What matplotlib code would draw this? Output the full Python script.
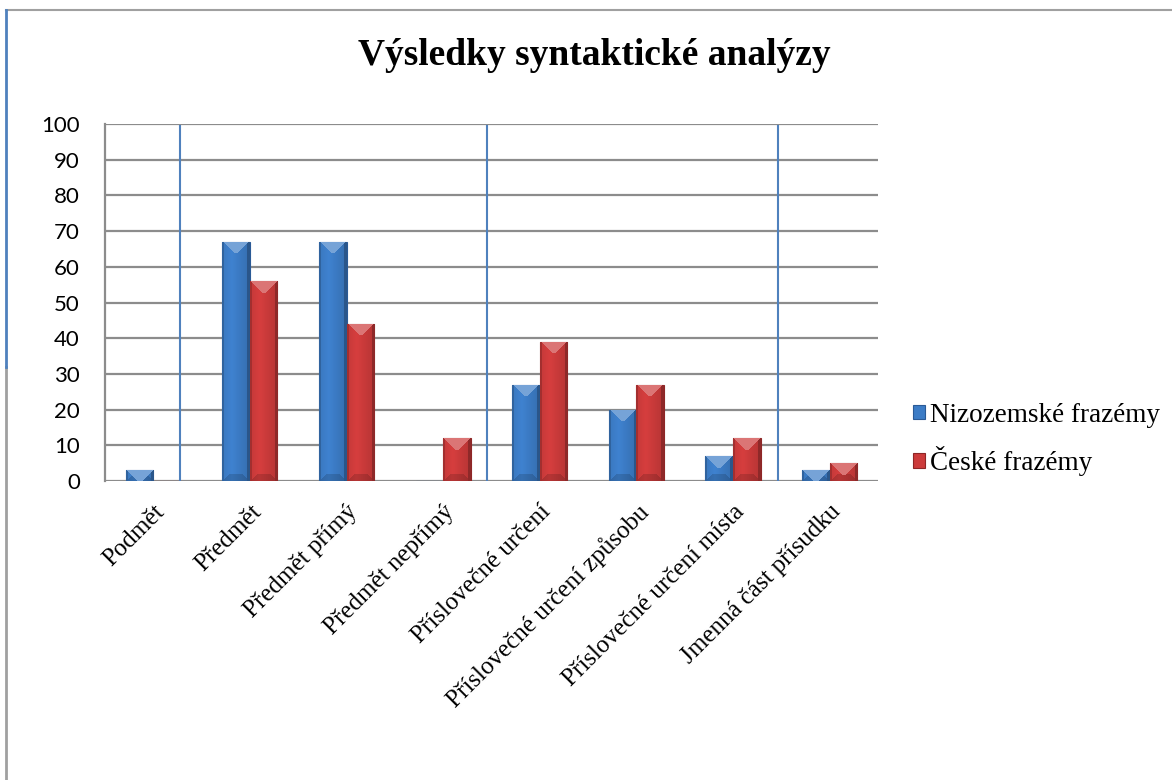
import numpy as np
import matplotlib
matplotlib.use('Agg')
import matplotlib.pyplot as plt
from matplotlib.colors import to_rgb
from matplotlib.lines import Line2D

categories = ['Podmět', 'Předmět', 'Předmět přímý', 'Předmět nepřímý',
              'Příslovečné určení', 'Příslovečné určení způsobu',
              'Příslovečné určení místa', 'Jmenná část přísudku']
nizozemske = [3, 67, 67, 0, 27, 20, 7, 3]
ceske = [0, 56, 44, 12, 39, 27, 12, 5]
series_names = ['Nizozemské frazémy', 'České frazémy']
yticks = [0, 10, 20, 30, 40, 50, 60, 70, 80, 90, 100]

blue = '#3C7CC6'
red = '#CC3B3B'


def bevel(w, h, base, d=12):
    # simple Excel-like bevel shading, in pixels
    base = np.array(to_rgb(base))
    u = (np.arange(w) + 0.5)[None, :]
    v = (np.arange(h) + 0.5)[:, None]
    dl, dr = u + 0 * v, w - u + 0 * v
    dt, db = v + 0 * u, h - v + 0 * u
    f = 1.05 - 0.25 * np.abs(u / w - 0.35) + 0 * v
    top = (dt < np.minimum(dl, dr)) & (dt < d)
    bot = (db < np.minimum(dl, dr)) & (db < d * 0.6)
    left = (dl < 2.5) & ~top
    right = (dr < 3) & ~top
    f = np.where(bot, f * 0.85, f)
    f = np.where(left, 0.8, f)
    f = np.where(right, 0.7, f)
    img = np.clip(base[None, None, :] * f[:, :, None], 0, 1)
    light = np.clip(base + (1 - base) * 0.3, 0, 1)
    img[top] = light
    return img


fig = plt.figure(figsize=(11.72, 7.8), dpi=100)
ax = fig.add_axes([0.0896, 0.3833, 0.6595, 0.4577])

x = np.arange(len(categories))
w = 0.285
ax.set_xlim(-0.5, len(categories) - 0.5)
ax.set_ylim(0, 100)

b1 = ax.bar(x - w / 2, nizozemske, w, color=blue, edgecolor='#2A5A96', linewidth=0.8, zorder=3,
            label=series_names[0])
b2 = ax.bar(x + w / 2, ceske, w, color=red, edgecolor='#8E2626', linewidth=0.8, zorder=3,
            label=series_names[1])

fig.canvas.draw()
for bars, col in [(b1, blue), (b2, red)]:
    for p in bars:
        if p.get_height() <= 0:
            continue
        (px0, py0), (px1, py1) = ax.transData.transform(
            [(p.get_x(), 0), (p.get_x() + p.get_width(), p.get_height())])
        img = bevel(max(int(round(px1 - px0)), 2), max(int(round(py1 - py0)), 2), col)
        im = ax.imshow(img, extent=(p.get_x(), p.get_x() + p.get_width(), 0, p.get_height()),
                       aspect='auto', zorder=3.5, interpolation='nearest')
        im.set_clip_path(p)

ax.set_xlim(-0.5, len(categories) - 0.5)
ax.set_ylim(0, 100)

# decorative vertical lines
for xv in [0.28, 3.45, 6.47]:
    ax.plot([xv, xv], [0, 99.4], color='#4F81BD', linewidth=1.5, zorder=2)

ax.set_yticks(yticks)
ax.yaxis.grid(True, color='#8C8C8C', linewidth=1.6, zorder=0)
ax.set_axisbelow(True)
for s in ['top', 'right', 'bottom']:
    ax.spines[s].set_visible(False)
ax.spines['left'].set_color('#8C8C8C')
ax.spines['left'].set_linewidth(1.6)
ax.tick_params(axis='y', length=0, pad=18, labelsize=16)
for t in ax.get_yticklabels():
    t.set_fontfamily('Lato')

ax.set_xticks(x)
ax.set_xticklabels(categories, rotation=45, ha='right', rotation_mode='anchor',
                   fontsize=18, fontfamily='Liberation Serif')
ax.tick_params(axis='x', length=0, pad=14)

fig.text(0.507, 0.929, 'Výsledky syntaktické analýzy', ha='center', va='center',
         fontsize=27, fontweight='bold', fontfamily='Liberation Serif')

leg = ax.legend(loc='upper left', bbox_to_anchor=(0.758, 0.515), bbox_transform=fig.transFigure,
                frameon=False, prop={'family': 'Liberation Serif', 'size': 19.5},
                handlelength=0.45, handleheight=0.45, handletextpad=0.2, labelspacing=0.68)

# page border
fig.add_artist(Line2D([0.005, 1.0], [0.987, 0.987], color='#A0A0A0', linewidth=1.5))
fig.add_artist(Line2D([0.005, 0.005], [0.0, 0.53], color='#A0A0A0', linewidth=2))
fig.add_artist(Line2D([0.005, 0.005], [0.53, 0.987], color='#4F81BD', linewidth=2))

fig.savefig('out.png', dpi=100)
